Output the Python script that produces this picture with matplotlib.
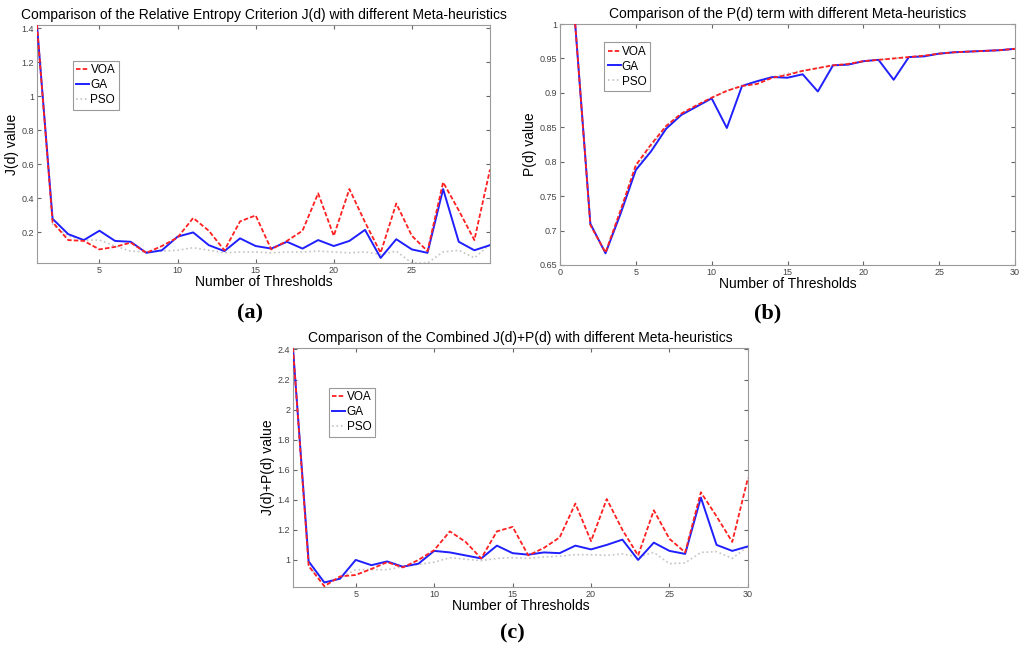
import numpy as np
import matplotlib
matplotlib.use("Agg")
import matplotlib.pyplot as plt

plt.rcParams['font.family'] = ['Liberation Sans', 'DejaVu Sans']

# threshold counts
x = np.arange(1, 31)

# (a) relative entropy criterion J(d)
j_voa = [1.42, 0.26, 0.155, 0.15, 0.10, 0.115, 0.14, 0.08, 0.12, 0.17,
         0.285, 0.21, 0.095, 0.265, 0.30, 0.10, 0.15, 0.21, 0.43, 0.18,
         0.455, 0.26, 0.08, 0.37, 0.18, 0.09, 0.495, 0.33, 0.155, 0.57]
j_ga = [1.42, 0.28, 0.19, 0.155, 0.21, 0.15, 0.145, 0.08, 0.095, 0.175,
        0.20, 0.125, 0.09, 0.165, 0.12, 0.105, 0.145, 0.105, 0.155, 0.12,
        0.15, 0.215, 0.05, 0.16, 0.10, 0.08, 0.455, 0.145, 0.095, 0.125]
j_pso = [1.42, 0.245, 0.18, 0.155, 0.155, 0.12, 0.09, 0.085, 0.09, 0.095,
         0.11, 0.095, 0.08, 0.085, 0.085, 0.08, 0.085, 0.085, 0.09, 0.085,
         0.08, 0.085, 0.07, 0.09, 0.02, 0.02, 0.085, 0.095, 0.05, 0.13]

# (b) P(d) term
p_voa = [1.0, 0.708, 0.668, 0.73, 0.795, 0.825, 0.852, 0.870, 0.882, 0.893,
         0.903, 0.910, 0.913, 0.922, 0.926, 0.932, 0.936, 0.940, 0.942, 0.946,
         0.948, 0.950, 0.952, 0.954, 0.957, 0.959, 0.960, 0.961, 0.962, 0.964]
p_ga = [1.0, 0.710, 0.667, 0.725, 0.788, 0.815, 0.848, 0.868, 0.880, 0.892,
        0.849, 0.910, 0.917, 0.923, 0.922, 0.927, 0.902, 0.940, 0.941, 0.946,
        0.948, 0.919, 0.952, 0.953, 0.957, 0.959, 0.960, 0.961, 0.962, 0.964]
p_pso = [1.0, 0.709, 0.668, 0.728, 0.790, 0.822, 0.850, 0.869, 0.881, 0.893,
         0.903, 0.911, 0.916, 0.923, 0.928, 0.932, 0.936, 0.940, 0.942, 0.946,
         0.948, 0.950, 0.952, 0.954, 0.957, 0.959, 0.960, 0.961, 0.962, 0.964]

# (c) combined J(d)+P(d)
c_voa = [2.41, 0.96, 0.825, 0.89, 0.90, 0.94, 0.985, 0.95, 1.0, 1.065,
         1.19, 1.12, 1.01, 1.19, 1.22, 1.03, 1.08, 1.15, 1.375, 1.125,
         1.405, 1.20, 1.03, 1.33, 1.14, 1.05, 1.45, 1.29, 1.12, 1.545]
c_ga = [2.41, 0.99, 0.85, 0.875, 1.0, 0.965, 0.99, 0.955, 0.975, 1.06,
        1.05, 1.03, 1.01, 1.095, 1.045, 1.035, 1.05, 1.045, 1.095, 1.07,
        1.10, 1.135, 1.0, 1.115, 1.06, 1.04, 1.415, 1.10, 1.06, 1.09]
c_pso = [2.41, 0.955, 0.85, 0.88, 0.935, 0.935, 0.935, 0.955, 0.97, 0.985,
         1.015, 1.005, 0.995, 1.01, 1.015, 1.01, 1.02, 1.025, 1.035, 1.035,
         1.03, 1.04, 1.02, 1.05, 0.975, 0.98, 1.05, 1.055, 1.01, 1.09]


def draw(ax, voa, ga, pso, title, ylabel, xlim, ylim, xticks, yticks,
         yticklabels, legend_pos):
    ax.plot(x, pso, color='#c4c4c4', ls=':', lw=1.2, label='PSO', zorder=2)
    ax.plot(x, ga, color='#1f1fff', ls='-', lw=1.4, label='GA', zorder=3)
    ax.plot(x, voa, color='#ff2020', ls=(0, (2.5, 1.2)), lw=1.3, label='VOA', zorder=4)
    ax.set_xlim(*xlim)
    ax.set_ylim(*ylim)
    ax.set_xticks(xticks)
    ax.set_yticks(yticks)
    ax.set_yticklabels(yticklabels)
    ax.tick_params(direction='in', length=3, labelsize=6.5, colors='#666666',
                   labelcolor='#444444', top=True, right=True, pad=2)
    for s in ax.spines.values():
        s.set_color('#9a9a9a')
    ax.set_title(title, fontsize=10, pad=4)
    ax.set_xlabel('Number of Thresholds', fontsize=10, labelpad=0)
    ax.set_ylabel(ylabel, fontsize=10, labelpad=2)
    h, l = ax.get_legend_handles_labels()
    leg = ax.legend(h[::-1], l[::-1], loc='upper left', bbox_to_anchor=legend_pos,
                    fontsize=8.5, handlelength=1.1, handletextpad=0.1,
                    borderpad=0.3, labelspacing=0.25, fancybox=False,
                    framealpha=1, borderaxespad=0)
    leg.get_frame().set_edgecolor('#9a9a9a')
    leg.get_frame().set_linewidth(0.8)


fig = plt.figure(figsize=(10.24, 6.53), dpi=100)

ax1 = fig.add_axes([0.0361, 0.5972, 0.4424, 0.3645])
draw(ax1, j_voa, j_ga, j_pso,
     'Comparison of the Relative Entropy Criterion J(d) with different Meta-heuristics',
     'J(d) value', (1, 30), (0.02, 1.42), [5, 10, 15, 20, 25],
     [0.2, 0.4, 0.6, 0.8, 1.0, 1.2, 1.4],
     ['0.2', '0.4', '0.6', '0.8', '1', '1.2', '1.4'], (0.079, 0.85))

ax2 = fig.add_axes([0.5469, 0.5942, 0.4443, 0.369])
draw(ax2, p_voa, p_ga, p_pso,
     'Comparison of the P(d) term with different Meta-heuristics',
     'P(d) value', (0, 30), (0.65, 1.0), [0, 5, 10, 15, 20, 25, 30],
     [0.65, 0.7, 0.75, 0.8, 0.85, 0.9, 0.95, 1.0],
     ['0.65', '0.7', '0.75', '0.8', '0.85', '0.9', '0.95', '1'], (0.097, 0.925))

ax3 = fig.add_axes([0.2861, 0.1011, 0.4443, 0.366])
draw(ax3, c_voa, c_ga, c_pso,
     'Comparison of the Combined J(d)+P(d) with different Meta-heuristics',
     'J(d)+P(d) value', (1, 30), (0.82, 2.41), [5, 10, 15, 20, 25, 30],
     [1.0, 1.2, 1.4, 1.6, 1.8, 2.0, 2.2, 2.4],
     ['1', '1.2', '1.4', '1.6', '1.8', '2', '2.2', '2.4'], (0.079, 0.833))

for label, px, py in [('(a)', 250, 313), ('(b)', 768, 313), ('(c)', 512, 633)]:
    fig.text(px / 1024, 1 - py / 653, label, ha='center', va='center',
             fontsize=16, fontweight='bold', family=['Liberation Serif', 'DejaVu Serif'])

fig.savefig('out.png', dpi=100)
